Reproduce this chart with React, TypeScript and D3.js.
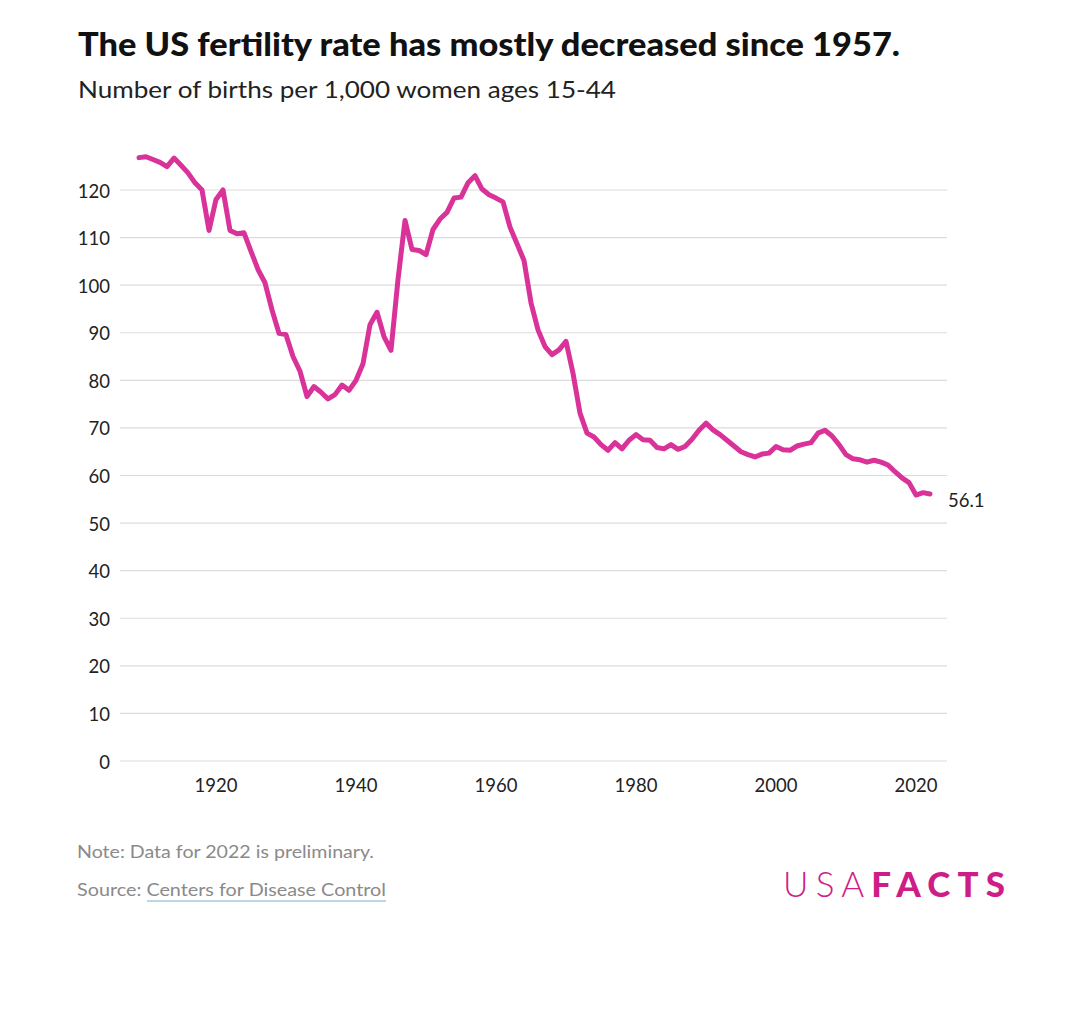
import React from "react";
import * as d3 from "d3";

const years: number[] = d3.range(1909, 2023);
const rates: number[] = [
  126.8, 127.0, 126.4, 125.8, 124.9, 126.7, 125.2, 123.6, 121.5, 120.0,
  111.5, 118.0, 120.0, 111.5, 110.8, 111.0, 107.1, 103.3, 100.5, 94.8,
  89.9, 89.6, 85.0, 81.9, 76.6, 78.7, 77.5, 76.1, 77.0, 79.0,
  77.9, 80.0, 83.5, 91.7, 94.3, 89.2, 86.3, 101.2, 113.6, 107.5,
  107.3, 106.4, 111.7, 113.9, 115.3, 118.3, 118.5, 121.5, 123.0, 120.2,
  119.0, 118.3, 117.5, 112.2, 108.7, 105.2, 96.3, 90.6, 87.1, 85.4,
  86.4, 88.2, 81.5, 73.1, 68.9, 68.1, 66.5, 65.3, 66.9, 65.6,
  67.4, 68.6, 67.5, 67.4, 65.9, 65.6, 66.5, 65.5, 66.1, 67.6,
  69.5, 71.0, 69.6, 68.6, 67.4, 66.2, 65.0, 64.4, 63.9, 64.5,
  64.7, 66.1, 65.4, 65.3, 66.2, 66.6, 66.9, 68.9, 69.5, 68.3,
  66.5, 64.4, 63.5, 63.3, 62.8, 63.2, 62.8, 62.2, 60.8, 59.5,
  58.5, 55.9, 56.4, 56.1,
];
const yTicks: number[] = [0, 10, 20, 30, 40, 50, 60, 70, 80, 90, 100, 110, 120];
const xTicks: number[] = [1920, 1940, 1960, 1980, 2000, 2020];

const TITLE = "The US fertility rate has mostly decreased since 1957.";
const SUBTITLE = "Number of births per 1,000 women ages 15-44";
const NOTE = "Note: Data for 2022 is preliminary.";
const SOURCE_LABEL = "Source: ";
const SOURCE_LINK = "Centers for Disease Control";

const FONT = "Lato, 'Open Sans', sans-serif";
const PINK = "#d9339a";

export default function App() {
  const x = d3.scaleLinear().domain([1920, 2020]).range([216, 916]);
  const y = d3.scaleLinear().domain([0, 120]).range([761, 190]);
  const data = years.map((yr, i) => ({ yr, v: rates[i] }));
  const line = d3
    .line<{ yr: number; v: number }>()
    .x((d) => x(d.yr))
    .y((d) => y(d.v));
  const last = data[data.length - 1];

  return (
    <svg
      width={1080}
      height={1010}
      style={{ position: "absolute", left: 0, top: 0, background: "#fff" }}
      fontFamily={FONT}
    >
      <rect width={1080} height={1010} fill="#fff" />
      <text x={78} y={56} fontSize={32} fontWeight={900} fill="#111" textLength={822} lengthAdjust="spacingAndGlyphs">
        {TITLE}
      </text>
      <text x={78} y={98} fontSize={23} fill="#222" textLength={538} lengthAdjust="spacingAndGlyphs">
        {SUBTITLE}
      </text>

      {yTicks.map((t) => (
        <g key={t}>
          <line x1={120} x2={947} y1={y(t)} y2={y(t)} stroke="#dcdcdc" strokeWidth={1.2} />
          <text x={110} y={y(t) + 7.5} fontSize={18.5} textAnchor="end" fill="#222">
            {t}
          </text>
        </g>
      ))}
      {xTicks.map((t) => (
        <text key={t} x={x(t)} y={792} fontSize={18.5} textAnchor="middle" fill="#222">
          {t}
        </text>
      ))}

      <path d={line(data) || ""} fill="none" stroke={PINK} strokeWidth={5} strokeLinejoin="round" strokeLinecap="round" />
      <text x={948} y={y(last.v) + 13} fontSize={18.5} fill="#222">
        {last.v.toFixed(1)}
      </text>

      <text x={77} y={858} fontSize={18} fill="#8a8a8a" textLength={297} lengthAdjust="spacingAndGlyphs">
        {NOTE}
      </text>
      <text x={77} y={896} fontSize={18} fill="#8a8a8a" textLength={309} lengthAdjust="spacingAndGlyphs">
        {SOURCE_LABEL}
        {SOURCE_LINK}
      </text>
      <line x1={147} x2={386} y1={901} y2={901} stroke="#bcd6e4" strokeWidth={2} />

      <text x={783} y={897} fontSize={35} fill="#cf1d87" textLength={222} lengthAdjust="spacing">
        <tspan fontWeight={300}>USA</tspan>
        <tspan fontWeight={900}>FACTS</tspan>
      </text>
    </svg>
  );
}
